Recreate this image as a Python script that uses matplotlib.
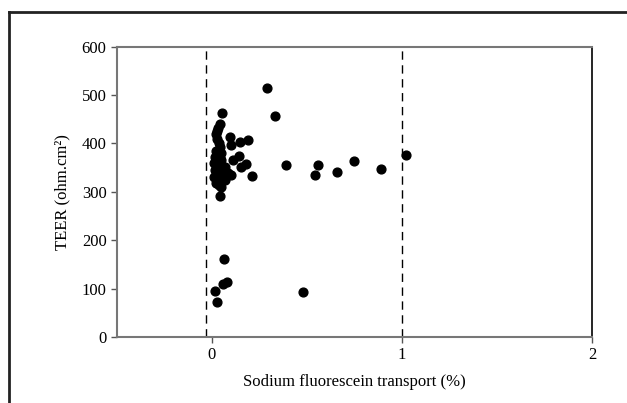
import matplotlib.pyplot as plt
from matplotlib.lines import Line2D

# Dane
transport = [0.29, 0.33, 0.054, 0.39, 0.56, 0.54, 0.66, 0.75, 0.89, 1.02,
             0.063, 0.056, 0.077, 0.014, 0.025, 0.48,
             0.044, 0.21, 0.094, 0.15, 0.19, 0.10, 0.14, 0.11, 0.155, 0.18, 0.10, 0.07,
             0.042, 0.033, 0.025, 0.042, 0.016, 0.025, 0.03, 0.04, 0.045, 0.068, 0.085, 0.068,
             0.02, 0.035, 0.02, 0.045, 0.01, 0.05, 0.03, 0.01, 0.055, 0.02, 0.035, 0.05,
             0.06, 0.03, 0.045, 0.015, 0.025, 0.04]
teer = [514, 456, 463, 355, 355, 334, 340, 363, 347, 377,
        162, 110, 114, 94, 72, 92,
        292, 332, 413, 403, 407, 396, 375, 366, 352, 358, 335, 328,
        441, 431, 410, 393, 372, 355, 338, 325, 311, 352, 338, 325,
        420, 400, 385, 380, 360, 365, 345, 330, 340, 318, 315, 330,
        345, 365, 355, 345, 425, 370]
ref_lines = [-0.03, 1]
x_ticks = [0, 1, 2]
y_ticks = [0, 100, 200, 300, 400, 500, 600]

plt.rcParams['font.family'] = ['Liberation Serif', 'DejaVu Serif']

fig = plt.figure(figsize=(6.27, 4.03), dpi=100)
ax = fig.add_axes([0.1866, 0.164, 0.7574, 0.72])

for xv in ref_lines:
    ax.axvline(xv, color='black', linestyle=(0, (6, 4)), linewidth=1)

ax.scatter(transport, teer, s=40, color='black', zorder=3)

ax.set_xlim(-0.5, 2)
ax.set_ylim(0, 600)
ax.set_xticks(x_ticks)
ax.set_yticks(y_ticks)
ax.tick_params(direction='out', length=4, width=1, color='#555555', labelsize=12)

for side in ['left', 'bottom', 'top']:
    ax.spines[side].set_color('#777777')
    ax.spines[side].set_linewidth(1.5)
ax.spines['right'].set_color('black')
ax.spines['right'].set_linewidth(1.2)

ax.set_xlabel('Sodium fluorescein transport (%)', fontsize=12, labelpad=8)
ax.set_ylabel('TEER (ohm.cm²)', fontsize=12, labelpad=8)

# ramka dookoła (lewa i górna krawędź)
fig.add_artist(Line2D([9 / 627, 9 / 627], [0, 1 - 12 / 403], transform=fig.transFigure, color='#222222', linewidth=2))
fig.add_artist(Line2D([9 / 627, 1], [1 - 12 / 403, 1 - 12 / 403], transform=fig.transFigure, color='#222222', linewidth=2))

fig.savefig('out.png', dpi=100)
